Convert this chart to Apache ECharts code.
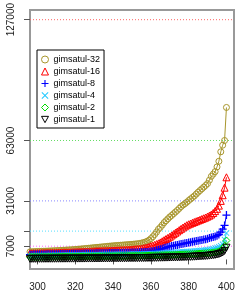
<!DOCTYPE html>
<html><head><meta charset="utf-8">
<script src="https://cdn.jsdelivr.net/npm/echarts@6/dist/echarts.min.js"></script>
<style>html,body{margin:0;padding:0;background:#fff}#c{width:240px;height:300px}</style>
</head><body><div id="c"></div>
<script>
// instance rank on x (296..400)
const xFirst = 296;
const xLast = 400;
const xTicks = [300, 320, 340, 360, 380, 400];
const yTicks = [7000, 15000, 31000, 63000, 127000];
const yTickLabels = [7000, 31000, 63000, 127000];
const names = ['gimsatul-32', 'gimsatul-16', 'gimsatul-8', 'gimsatul-4', 'gimsatul-2', 'gimsatul-1'];

const g32 = [4000,4050,4100,4150,4200,
 4240,4280,4320,4360,4400,4450,4500,4550,4600,4650,
 4700,4760,4820,4880,4940,5000,5060,5120,5200,5280,
 5360,5450,5540,5630,5720,5820,5920,6020,6120,6220,
 6320,6420,6520,6620,6720,6820,6920,7020,7120,7200,
 7280,7360,7440,7520,7600,7680,7760,7840,7920,8000,
 8100,8200,8300,8450,8650,8900,9200,9600,10200,11000,
 12000,13200,14500,16000,17000,18200,19500,20500,21500,22500,
 23300,24200,25100,26000,27000,28000,28800,29500,30300,31200,
 32000,32800,33600,34600,35600,36500,37400,38300,39200,40200,
 42000,44000,45200,46500,49000,52000,57000,60500,63000,80500];
const g16 = [3200,3220,3240,3260,3300,
 3330,3360,3390,3420,3450,3480,3510,3540,3570,3600,
 3630,3660,3690,3720,3750,3780,3810,3840,3880,3920,
 3960,4000,4040,4080,4120,4160,4200,4240,4280,4320,
 4360,4400,4440,4480,4520,4560,4600,4640,4680,4720,
 4760,4800,4850,4900,4950,5000,5060,5120,5180,5240,
 5320,5400,5500,5620,5750,5900,6100,6350,6650,7000,
 7300,7700,8100,8500,9000,9600,10200,10800,11400,12000,
 12700,13400,14100,14800,15500,16200,16900,17500,18100,18600,
 19000,19400,19800,20200,20600,21000,21400,21800,22200,22700,
 23200,23800,24600,25600,26800,28500,31000,34000,38000,43500];
const g8 = [2500,2520,2540,2560,2580,
 2600,2620,2640,2660,2680,2700,2720,2740,2760,2780,
 2800,2820,2840,2860,2880,2900,2920,2940,2960,2980,
 3000,3020,3040,3060,3080,3100,3120,3140,3160,3180,
 3200,3220,3240,3260,3280,3300,3320,3340,3360,3380,
 3400,3420,3440,3460,3480,3500,3520,3540,3560,3600,
 3640,3680,3720,3760,3800,3850,3900,3960,4050,4200,
 4300,4500,4800,5100,5400,5700,6000,6300,6600,6900,
 7100,7300,7500,7700,7900,8100,8300,8500,8700,8900,
 9100,9300,9500,9700,9900,10100,10300,10500,10700,11000,
 11300,11600,11900,12200,12600,13200,14500,16000,18000,23500];
const g4 = [2000,2010,2020,2030,2040,
 2055,2070,2085,2100,2115,2130,2145,2160,2175,2190,
 2205,2220,2235,2250,2265,2280,2295,2310,2325,2340,
 2355,2370,2385,2400,2415,2430,2445,2460,2475,2490,
 2505,2520,2535,2550,2565,2580,2595,2610,2625,2640,
 2655,2670,2685,2700,2715,2730,2745,2760,2780,2800,
 2820,2840,2860,2880,2900,2920,2940,2960,2990,3020,
 3060,3100,3150,3200,3260,3320,3380,3440,3500,3560,
 3620,3680,3740,3800,3870,3940,4010,4080,4150,4220,
 4300,4380,4460,4540,4620,4700,4800,4900,5000,5150,
 5300,5500,5700,6000,6300,6700,7200,8000,10500,14000];
const g2 = [1300,1310,1320,1330,1340,
 1350,1360,1370,1380,1390,1400,1410,1420,1430,1440,
 1450,1460,1470,1480,1490,1500,1510,1520,1530,1540,
 1550,1560,1570,1580,1590,1600,1610,1620,1630,1640,
 1650,1660,1670,1680,1690,1700,1715,1730,1745,1760,
 1775,1790,1805,1820,1835,1850,1865,1880,1895,1910,
 1925,1940,1960,1980,2000,2020,2040,2060,2080,2100,
 2130,2160,2190,2220,2250,2280,2310,2340,2370,2400,
 2440,2480,2520,2560,2600,2640,2680,2720,2760,2800,
 2850,2900,2950,3000,3060,3120,3180,3240,3300,3380,
 3460,3560,3680,3820,4000,4300,4800,5600,7000,10000];
const g1 = [300,305,310,315,320,
 325,330,335,340,345,350,355,360,365,370,
 375,380,385,390,395,400,405,410,415,420,
 425,430,435,440,445,450,455,460,465,470,
 475,480,490,500,510,520,530,540,550,560,
 570,580,590,600,610,620,630,640,650,660,
 670,680,690,700,715,730,745,760,775,790,
 810,830,850,870,890,910,930,950,970,990,
 1010,1040,1070,1100,1130,1160,1200,1240,1280,1320,
 1360,1400,1450,1500,1560,1620,1690,1760,1840,1920,
 2010,2120,2250,2400,2600,2850,3200,3700,4500,6200];

const FONT = '"Liberation Sans", Arial, Helvetica, sans-serif';
const PLUS = 'path://M4.2,0H5.8V4.2H10V5.8H5.8V10H4.2V5.8H0V4.2H4.2Z';
const CROSS = 'path://M1,0L5,4L9,0L10,1L6,5L10,9L9,10L5,6L1,10L0,9L4,5L0,1Z';
const DOWNTRI = 'path://M0,0H10L5,9Z';
const colors = ['#a8962c', '#ff0000', '#0000ff', '#22c8ff', '#00dd00', '#000000'];
const styles = [
  {symbol:'circle', size:6, open:true},
  {symbol:'triangle', size:7, open:true},
  {symbol:PLUS, size:8, open:false},
  {symbol:CROSS, size:6, open:false},
  {symbol:'diamond', size:7, open:true},
  {symbol:'triangle', size:7, open:true, rotate:180}
];
const values = [g32, g16, g8, g4, g2, g1];
const xs = [];
for (let x = xFirst; x <= xLast; x++) xs.push(x);

function itemStyleOf(i) {
  const s = styles[i];
  return s.open ? {color:'rgba(255,255,255,0)', borderColor:colors[i], borderWidth:1}
                : {color:colors[i], borderWidth:0};
}

const series = names.map((n, i) => {
  const s = styles[i];
  return {
    name: n, type: 'line', clip: true,
    data: xs.map((x, k) => [x, values[i][k]]),
    symbol: s.symbol, symbolSize: s.size, symbolRotate: s.rotate || 0,
    showAllSymbol: true,
    lineStyle: {color: colors[i], width: 1},
    itemStyle: itemStyleOf(i),
    emphasis: {disabled: true}, z: 3
  };
});

const refColors = ['#ff66ff', '#55ddff', '#8888ff', '#66dd66', '#ff6666'];
yTicks.forEach((v, i) => {
  series.push({
    name: 'ref' + v, type: 'line', silent: true, z: 1, symbol: 'none',
    data: [[296, v], [404, v]],
    lineStyle: {color: refColors[i], type: [1, 2], width: 1},
    itemStyle: {color: refColors[i]},
    emphasis: {disabled: true}
  });
});

const chart = echarts.init(document.getElementById('c'), null, {renderer: 'canvas'});
chart.setOption({
  animation: false,
  backgroundColor: '#fff',
  color: colors,
  grid: {left: 30, top: 6, right: 6, bottom: 31, show: true, borderColor: '#999', borderWidth: 2, backgroundColor: 'transparent'},
  legend: {
    left: 37, top: 50, orient: 'vertical', itemWidth: 7, itemHeight: 7, itemGap: 3,
    padding: [5, 4, 4, 4], borderColor: '#000', borderWidth: 1, backgroundColor: '#fff',
    textStyle: {fontFamily: FONT, fontSize: 9, color: '#000'},
    data: names.map((n, i) => ({name: n, icon: styles[i].rotate ? DOWNTRI : styles[i].symbol,
      itemStyle: itemStyleOf(i)}))
  },
  xAxis: {
    type: 'value', min: 296, max: 404,
    axisLine: {show: false},
    axisTick: {show: true, customValues: xTicks, length: 5, lineStyle: {color: '#555'}},
    axisLabel: {customValues: xTicks, formatter: v => String(v), fontFamily: FONT, fontSize: 10, color: '#222', margin: 13},
    splitLine: {show: false}
  },
  yAxis: {
    type: 'value', min: -5080, max: 132080,
    axisLine: {show: false},
    axisTick: {show: true, customValues: yTicks, length: 6, lineStyle: {color: '#555'}},
    axisLabel: {customValues: yTickLabels, formatter: v => String(v), rotate: 90, fontFamily: FONT, fontSize: 10, color: '#222', margin: 14},
    splitLine: {show: false}
  },
  series: series
});
</script></body></html>
